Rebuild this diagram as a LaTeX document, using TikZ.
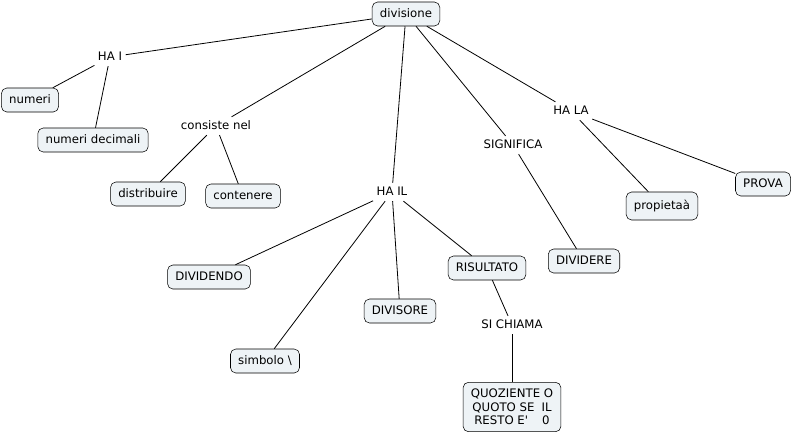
\documentclass[tikz,border=0pt]{standalone}
\usepackage{fontspec}
\setmainfont{DejaVu Sans}
\definecolor{boxfill}{RGB}{238,243,246}
\tikzset{
  concept/.style={draw,rounded corners=4pt,fill=boxfill,inner xsep=5.8pt,
    minimum height=18pt,text height=6.5pt,text depth=1.8pt,
    font=\fontsize{8.8}{10.2}\selectfont},
  linkphrase/.style={inner sep=2.5pt,text height=6.5pt,text depth=1.8pt,
    font=\fontsize{8.8}{10.2}\selectfont},
  link/.style={draw,line width=0.6pt}
}
\begin{document}
\begin{tikzpicture}[x=0.75pt,y=-0.75pt]
\useasboundingbox[fill=white] (0,0) rectangle (795,437);
\node[concept] (divisione) at (406,14) {divisione};
\node[linkphrase] (hai) at (110,57) {HA I};
\node[concept] (numeri) at (30,100) {numeri};
\node[concept] (decimali) at (93,140) {numeri decimali};
\node[linkphrase] (consiste) at (216,126) {consiste nel};
\node[concept] (distribuire) at (148,194) {distribuire};
\node[concept] (contenere) at (243,196) {contenere};
\node[linkphrase] (hail) at (392,192) {HA IL};
\node[concept] (dividendo) at (209,277) {DIVIDENDO};
\node[concept] (divisore) at (400,311) {DIVISORE};
\node[concept] (simbolo) at (265,361) {simbolo \textbackslash};
\node[concept] (risultato) at (487,268) {RISULTATO};
\node[linkphrase] (sichiama) at (512,325) {SI CHIAMA};
\node[concept,align=center,text height=,text depth=,inner ysep=5pt] (quoziente) at (512,407)
  {QUOZIENTE O\\QUOTO SE\hspace{0.6em}IL\\RESTO E\textquotesingle\hspace{1.2em}0};
\node[linkphrase] (significa) at (513,145) {SIGNIFICA};
\node[concept] (dividere) at (584,261) {DIVIDERE};
\node[linkphrase] (hala) at (571,111) {HA LA};
\node[concept,minimum height=21pt] (propieta) at (662,206) {propietaà};
\node[concept] (prova) at (763,184) {PROVA};
\foreach \a/\b in {divisione/hai,hai/numeri,hai/decimali,
    divisione/consiste,consiste/distribuire,consiste/contenere,
    divisione/hail,hail/dividendo,hail/simbolo,hail/divisore,hail/risultato,
    risultato/sichiama,sichiama/quoziente,
    divisione/significa,significa/dividere,
    divisione/hala,hala/propieta,hala/prova}
  \draw[link] (\a) -- (\b);
\end{tikzpicture}
\end{document}
